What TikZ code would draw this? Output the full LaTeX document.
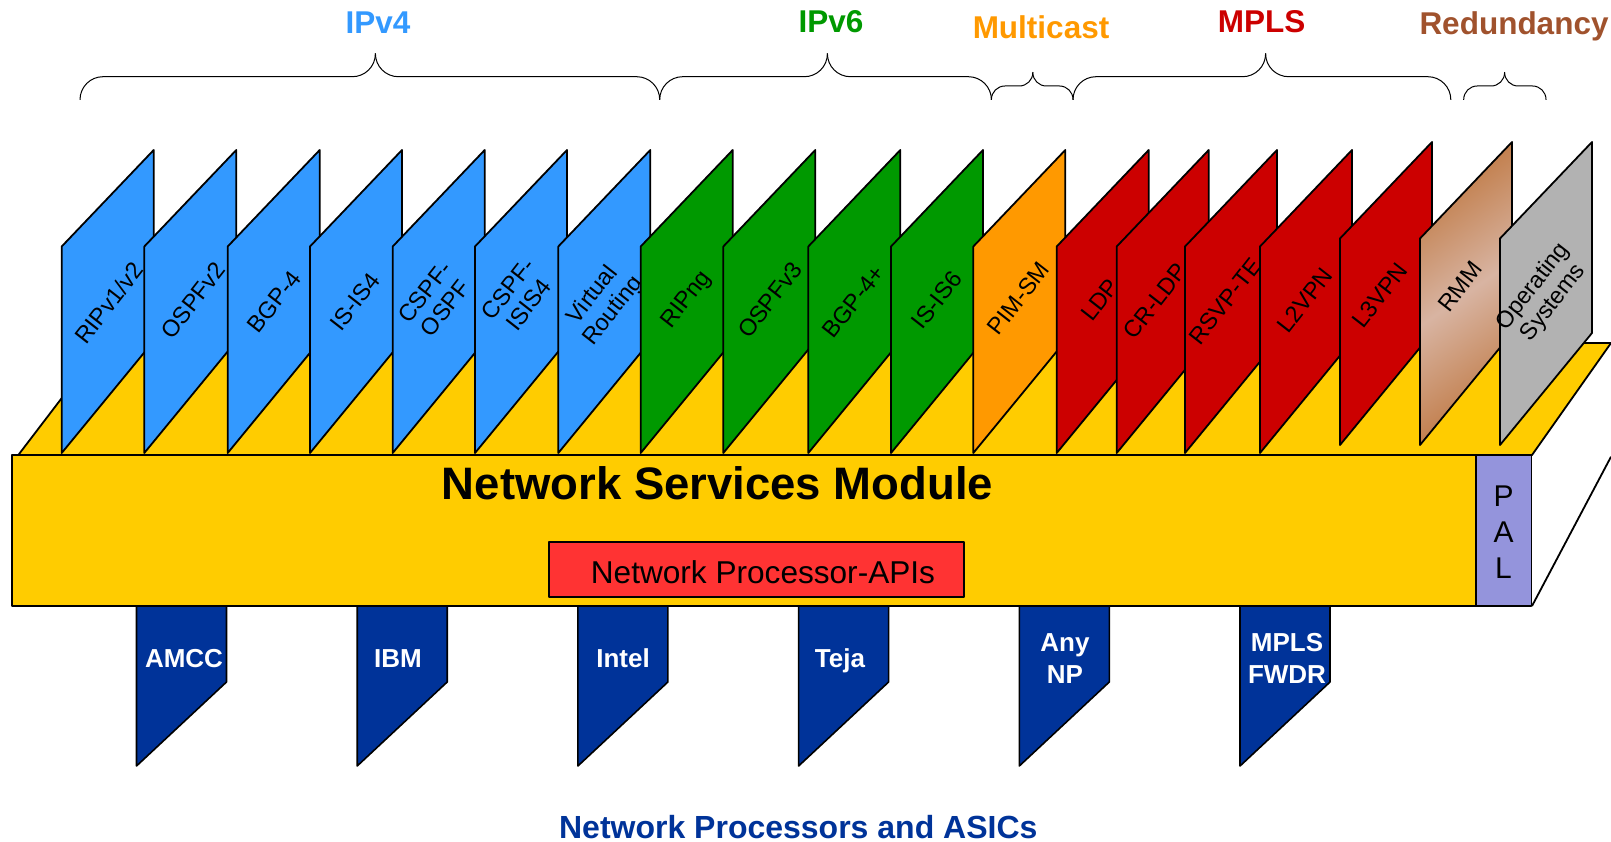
\documentclass[tikz,border=0pt]{standalone}
\usepackage{fontspec}
\setmainfont{Liberation Sans}
\definecolor{yel}{HTML}{FFCC00}
\definecolor{bblue}{HTML}{3399FF}
\definecolor{bgreen}{HTML}{009900}
\definecolor{borange}{HTML}{FF9900}
\definecolor{bred}{HTML}{CC0000}
\definecolor{bgray}{HTML}{B2B2B2}
\definecolor{rmmA}{HTML}{C07A45}
\definecolor{rmmB}{HTML}{D8B4A2}
\definecolor{palc}{HTML}{9494DC}
\definecolor{apired}{HTML}{FF3333}
\definecolor{tabblue}{HTML}{003399}
\definecolor{brown}{HTML}{A0522D}
\newcommand\mkblade[3]{\draw[blade,#3] (#1,#2) -- (#1,#2-206.5) -- (#1+92,#2-303) -- (#1+92,#2-112) -- cycle;}
\newcommand\mktab[1]{\draw[tabshape] (#1,606) -- (#1+90,606) -- (#1+90,682) -- (#1,766) -- cycle;}
\newcommand\mkbrace[6]{%
  \draw[bracel, rounded corners=#6] (#1,100) -- (#1,#5) -- (#2,#5) -- (#2,#4);
  \draw[bracel, rounded corners=#6] (#2,#4) -- (#2,#5) -- (#3,#5) -- (#3,100);}
\begin{document}
\begin{tikzpicture}[x=1pt,y=-1pt,line join=round,
  blade/.style={draw=black,line width=1.8pt},
  lbl/.style={font=\fontsize{23.5}{26}\selectfont,align=center,rotate=52,inner sep=0pt},
  tabshape/.style={draw=black,line width=1.6pt,fill=tabblue},
  tablbl/.style={font=\bfseries\fontsize{26}{31.6}\selectfont,text=white,align=center,anchor=base,inner sep=0pt},
  bracel/.style={draw=black,line width=1pt},
  head/.style={font=\bfseries\fontsize{31.5}{36}\selectfont,anchor=base,inner sep=0pt},
  edge/.style={draw=black,line width=1.8pt}]
\useasboundingbox (0,0) rectangle (1611,842);
% braces and headings
\mkbrace{80}{375.4}{659.7}{53.3}{76.7}{23pt}
\mkbrace{659.7}{827.4}{991.4}{53.3}{76.7}{23pt}
\mkbrace{991.4}{1032.8}{1073}{72.7}{86}{13.5pt}
\mkbrace{1073}{1265.6}{1450.8}{53.3}{76.7}{23pt}
\mkbrace{1463.7}{1504.6}{1546}{72.7}{86}{13.5pt}
\node[head,text=bblue] (hv4) at (378,33.3) {IPv4};
\node[head,text=bgreen] (hv6) at (831,33) {IPv6};
\node[head,text=borange] (hmc) at (1041,38.3) {Multicast};
\node[head,text=bred] (hmpls) at (1261.5,33) {MPLS};
\node[head,text=brown] (hred) at (1514,34.5) {Redundancy};
% platform top and side
\draw[edge,fill=yel] (18.3,455) -- (103.8,343) -- (1611,343) -- (1532,455) -- cycle;
\draw[edge] (1532,606) -- (1611,456.7);
% blades
\mkblade{61.7}{453}{fill=bblue}
\node[lbl] (b1) at (109,303) {RIPv1/v2};
\mkblade{144.3}{453}{fill=bblue}
\node[lbl] (b2) at (193.3,300.7) {OSPFv2};
\mkblade{227.7}{453}{fill=bblue}
\node[lbl] (b3) at (274,301.7) {BGP-4};
\mkblade{310}{453}{fill=bblue}
\node[lbl] (b4) at (355,301.7) {IS-IS4};
\mkblade{392.7}{453}{fill=bblue}
\node[lbl] (b5) at (435,300) {CSPF-\\OSPF};
\mkblade{475}{453}{fill=bblue}
\node[lbl] (b6) at (518.3,296.7) {CSPF-\\ISIS4};
\mkblade{558.3}{453}{fill=bblue}
\node[lbl] (b7) at (603.3,303.3) {Virtual\\Routing};
\mkblade{640.7}{453}{fill=bgreen}
\node[lbl] (b8) at (686.7,300) {RIPng};
\mkblade{723.3}{453}{fill=bgreen}
\node[lbl] (b9) at (770,300) {OSPFv3};
\mkblade{808.3}{453}{fill=bgreen}
\node[lbl] (b10) at (853.3,301.7) {BGP-4+};
\mkblade{891}{453}{fill=bgreen}
\node[lbl] (b11) at (936.7,300) {IS-IS6};
\mkblade{973.3}{453}{fill=borange}
\node[lbl] (b12) at (1018.3,298.3) {PIM-SM};
\mkblade{1056.7}{453}{fill=bred}
\node[lbl] (b13) at (1099.7,300) {LDP};
\mkblade{1116.7}{453}{fill=bred}
\node[lbl] (b14) at (1155.3,301) {CR-LDP};
\mkblade{1185}{453}{fill=bred}
\node[lbl] (b15) at (1225.3,301) {RSVP-TE};
\mkblade{1260}{453}{fill=bred}
\node[lbl] (b16) at (1305,300) {L2VPN};
\mkblade{1340}{445}{fill=bred}
\node[lbl] (b17) at (1380,295) {L3VPN};
\mkblade{1420}{445}{left color=rmmA,right color=rmmA,middle color=rmmB,shading angle=35}
\node[lbl] (b18) at (1460,286.7) {RMM};
\mkblade{1500}{445}{fill=bgray}
\node[lbl] (b19) at (1543.3,295) {Operating\\Systems};
% tabs
\mktab{136.5}
\mktab{357.2}
\mktab{577.9}
\mktab{798.6}
\mktab{1019.3}
\mktab{1240}
% front face
\draw[edge,fill=yel] (11.7,455) rectangle (1476,606);
\draw[edge,fill=palc] (1476,455) rectangle (1531.5,606);
\node[font=\fontsize{30}{36}\selectfont,anchor=base,inner sep=0pt] (palP) at (1503.5,506) {P};
\node[font=\fontsize{30}{36}\selectfont,anchor=base,inner sep=0pt] (palA) at (1503.5,542.3) {A};
\node[font=\fontsize{30}{36}\selectfont,anchor=base,inner sep=0pt] (palL) at (1503.5,578.3) {L};
\node[font=\bfseries\fontsize{45.5}{50}\selectfont,anchor=base west,inner sep=0pt] (nsm) at (441.7,499.3) {Network Services Module};
\draw[edge,fill=apired] (549.3,541.7) rectangle (963.7,597.3);
\node[font=\fontsize{31.6}{36}\selectfont,anchor=base west,inner sep=0pt] (npa) at (590.7,583.3) {Network Processor-APIs};
% tab labels
\node[tablbl] (t1) at (184,667.3) {AMCC};
\node[tablbl] (t2) at (398,667.3) {IBM};
\node[tablbl] (t3) at (623,667.3) {Intel};
\node[tablbl] (t4) at (840,667.3) {Teja};
\node[tablbl] (t5) at (1065,683.3) {Any\\NP};
\node[tablbl] (t6) at (1287,683.3) {MPLS\\FWDR};
\node[font=\bfseries\fontsize{32}{36}\selectfont,text=tabblue,anchor=base,inner sep=0pt] (bottom) at (798.3,838.3) {Network Processors and ASICs};
\end{tikzpicture}
\end{document}
